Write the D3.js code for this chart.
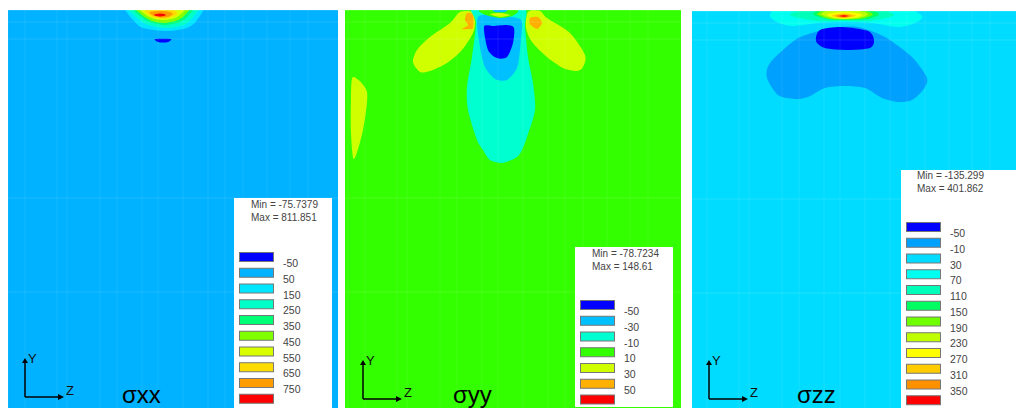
<!DOCTYPE html>
<html>
<head>
<meta charset="utf-8">
<script src="https://cdn.jsdelivr.net/npm/d3@7"></script>
<style>
  html, body { margin: 0; padding: 0; background: #fff; }
  text { font-family: "Liberation Sans", Arial, sans-serif; }
</style>
</head>
<body>
<div id="chart"></div>
<script>
// legend values
const xxLabels = ["-50", "50", "150", "250", "350", "450", "550", "650", "750"];
const yyLabels = ["-50", "-30", "-10", "10", "30", "50"];
const zzLabels = ["-50", "-10", "30", "70", "110", "150", "190", "230", "270", "310", "350"];

const xxColors = ["#0000ff", "#00b2ff", "#00e6ff", "#00ffc8", "#00ff78", "#80ff00", "#d8ff00", "#ffdc00", "#ff9c00", "#ff0000"];
const yyColors = ["#0000ff", "#00c0ff", "#00ffd0", "#33ff00", "#d0ff00", "#ffb000", "#ff0000"];
const zzColors = ["#0000ff", "#00a0ff", "#00dcff", "#00fff0", "#00ffb8", "#00ff60", "#70ff00", "#c0ff00", "#ffff00", "#ffcc00", "#ff9000", "#ff0000"];

// contours: band index, then [z, depth] outline points, z measured from the load point
const xxBands = [
  [2, [[-34, -4], [-34, 1], [-27, 10], [-17, 18], [7, 21], [27, 18], [37, 10], [39, -4]]],
  [3, [[-29, -4], [-24, 7], [-12, 15], [7, 18], [24, 15], [33, 7], [35, -4]]],
  [4, [[-25, -4], [-20, 6], [-10, 12], [5, 15], [20, 12], [28, 6], [31, -4]]],
  [5, [[-22, -3], [-18, 5], [-8, 11], [5, 13], [18, 10], [25, 5], [27, -3]]],
  [6, [[-18, -2], [-14, 5], [-5, 9], [5, 10], [15, 8], [21, 4], [23, -2]]],
  [7, [[-14, 0], [-11, 5], [-4, 8], [5, 8.5], [12, 7], [17, 4], [13, 0]]],
  [8, [[-10, 2], [-8, 5], [0, 7.5], [8, 7], [13, 4], [8, 1.5], [0, 1]]],
  [9, [[-6, 5], [0, 6.5], [6, 5], [0, 3.5]]],
  [0, [[-5, 29], [11, 29], [8, 32], [3, 32.5], [-2, 32]]]
];
const yyBands = [
  [4, [[-40, 2], [-28, 2], [-25, 12], [-27, 23], [-38, 40], [-53, 53], [-70, 61], [-80, 62], [-87, 52], [-83, 40], [-70, 27], [-50, 13]]],
  [4, [[28, 2], [40, 1], [47, 8], [70, 23], [85, 45], [83, 57], [77, 61], [63, 58], [47, 47], [32, 32], [26, 18]]],
  [4, [[-147, 67], [-133, 82], [-137, 120], [-146, 149], [-149, 123], [-149, 90]]],
  [5, [[-33, 3], [-27, 5], [-27, 18], [-31, 19], [-38, 19], [-32, 15], [-35, 10]]],
  [5, [[30, 8], [38, 7], [42, 13], [37, 19], [30, 14]]],
  [2, [[-27, -3], [-24, 13], [-28, 47], [-33, 77], [-32, 100], [-23, 130], [-17, 140], [-10, 150], [3, 153], [17, 147], [22, 140], [27, 127], [35, 100], [33, 73], [28, 47], [25, 17], [23, -3]]],
  [1, [[-22, 7], [-20, 37], [-15, 57], [-5, 69], [7, 70], [17, 58], [20, 40], [22, 13], [17, 8], [0, 6]]],
  [0, [[-16, 17], [-12, 40], [-3, 48], [7, 47], [13, 33], [14, 18], [7, 15], [-7, 16]]],
  [3, [[-20, 0], [-14, 5], [0, 8], [12, 6], [17, 0]]],
  [4, [[-10, 4], [0, 3], [10, 5], [0, 7]]],
  [1, [[-7, -1], [7, -1], [5, 2], [-5, 2]]]
];
const zzBands = [
  [1, [[-10, 17], [16, 16], [43, 26], [70, 46], [85, 67], [81, 79], [70, 89], [56, 91], [40, 87], [23, 77], [3, 75], [-17, 77], [-34, 86], [-47, 88], [-64, 84], [-75, 67], [-72, 52], [-47, 29], [-27, 21]]],
  [0, [[-22, 19], [0, 16], [26, 20], [32, 29], [28, 37], [6, 39], [-17, 37], [-26, 30]]],
  [3, [[-72, 4], [-65, 11], [-50, 15], [-24, 12], [0, 11], [30, 12], [56, 16], [73, 12], [80, 5], [56, -3], [-57, -3]]],
  [4, [[-52, 4], [-25, 10], [0, 10], [28, 10], [52, 4], [30, -3], [-30, -3]]],
  [5, [[-29, 3], [-15, 8], [5, 9], [25, 8], [37, 3], [20, -3], [-15, -3]]],
  [6, [[-25, 3], [-12, 8], [3, 8.5], [20, 7.5], [31, 3], [15, -2], [-12, -2]]],
  [7, [[-21, 3], [-10, 7], [3, 8], [17, 7], [26, 3], [12, -1], [-10, -1]]],
  [8, [[-15, 4], [-6, 7], [3, 7.5], [13, 6.5], [20, 4], [10, 1.5], [-6, 1.5]]],
  [9, [[-10, 5], [0, 7], [10, 6], [14, 4.5], [5, 2.5], [-5, 3]]],
  [10, [[-6, 5], [2, 6.5], [9, 5], [2, 3.5]]],
  [11, [[-3, 5], [2, 5.8], [6, 5], [2, 4.2]]]
];

const meshZ = [-152, -135, -103, -93, -60, -43, -18, -2, 23, 48, 65, 83, 107, 130, 148];
const meshDepth = [0.5, 12, 29, 188, 282];

const WIDTH = 1016;
const HEIGHT = 409;

const SVG = d3.select('#chart')
  .append('svg')
  .attr('width', WIDTH)
  .attr('height', HEIGHT)
  .style('display', 'block');

SVG.append('defs').append('filter')
  .attr('id', 'soft')
  .append('feGaussianBlur')
  .attr('stdDeviation', 0.6);

function drawPanel(p) {
  const x = d3.scaleLinear().domain(p.zDomain).range([p.left, p.right]);
  const y = d3.scaleLinear().domain([0, p.bottom - p.top]).range([p.top, p.bottom]);
  const color = (i) => p.colors[i];

  const clipId = 'clip-' + p.name;
  SVG.select('defs').append('clipPath').attr('id', clipId)
    .append('rect')
    .attr('x', p.left).attr('y', p.top)
    .attr('width', p.right - p.left).attr('height', p.bottom - p.top);

  const g = SVG.append('g').attr('clip-path', `url(#${clipId})`);

  g.append('rect')
    .attr('x', p.left).attr('y', p.top)
    .attr('width', p.right - p.left).attr('height', p.bottom - p.top)
    .attr('fill', color(p.background));

  const line = d3.line()
    .x((d) => x(d[0]))
    .y((d) => y(d[1]))
    .curve(d3.curveCardinalClosed.tension(0.2));

  g.append('g').attr('filter', 'url(#soft)')
    .selectAll('path')
    .data(p.bands)
    .enter()
    .append('path')
    .attr('d', (d) => line(d[1]))
    .attr('fill', (d) => color(d[0]));

  // faint mesh lines of the model
  g.selectAll('.meshv')
    .data(meshZ)
    .enter()
    .append('line')
    .attr('x1', (d) => x(d)).attr('x2', (d) => x(d))
    .attr('y1', p.top).attr('y2', p.bottom)
    .attr('stroke', '#fff').attr('stroke-opacity', 0.08);

  g.selectAll('.meshh')
    .data(meshDepth)
    .enter()
    .append('line')
    .attr('x1', p.left).attr('x2', p.right)
    .attr('y1', (d) => y(d)).attr('y2', (d) => y(d))
    .attr('stroke', '#fff').attr('stroke-opacity', 0.12);

  // legend
  const box = p.box;
  SVG.append('rect')
    .attr('x', box.x).attr('y', box.y)
    .attr('width', box.w).attr('height', box.h)
    .attr('fill', '#fff');

  SVG.selectAll('.stat-' + p.name)
    .data([p.min, p.max])
    .enter()
    .append('text')
    .attr('x', box.textX)
    .attr('y', (d, i) => box.textY + i * 13)
    .attr('font-size', 10)
    .attr('fill', '#444')
    .text((d, i) => (i === 0 ? 'Min = ' : 'Max = ') + d);

  const slot = d3.scaleLinear().domain([0, 1]).range([box.swatchY, box.swatchY + 15.75]);

  SVG.selectAll('.swatch-' + p.name)
    .data(p.colors)
    .enter()
    .append('rect')
    .attr('x', box.swatchX + 0.5)
    .attr('y', (d, i) => slot(i) + 0.5)
    .attr('width', 34)
    .attr('height', 9)
    .attr('fill', (d) => d)
    .attr('stroke', '#777');

  SVG.selectAll('.label-' + p.name)
    .data(p.labels)
    .enter()
    .append('text')
    .attr('x', box.swatchX + 44)
    .attr('y', (d, i) => slot(i) + 15)
    .attr('font-size', 10.5)
    .attr('fill', '#444')
    .text((d) => d);

  // triad
  const t = p.triad;
  const arrow = SVG.append('g').attr('stroke', '#000').attr('stroke-width', 1.5).attr('fill', 'none');
  arrow.append('path').attr('d', d3.line()([[t.x, t.y], [t.x, t.y - 36]]));
  arrow.append('path').attr('d', d3.line()([[t.x, t.y], [t.x + 36, t.y]]));
  SVG.append('path')
    .attr('d', d3.line()([[t.x - 3, t.y - 34], [t.x, t.y - 39], [t.x + 3, t.y - 34]]) + 'Z')
    .attr('fill', '#000');
  SVG.append('path')
    .attr('d', d3.line()([[t.x + 33, t.y - 3], [t.x + 39, t.y], [t.x + 33, t.y + 3]]) + 'Z')
    .attr('fill', '#000');
  SVG.append('text').attr('x', t.x + 3).attr('y', t.y - 34).attr('font-size', 13).attr('fill', '#111').text('Y');
  SVG.append('text').attr('x', t.x + 41).attr('y', t.y - 2).attr('font-size', 13).attr('fill', '#111').text('Z');

  SVG.append('text')
    .attr('x', p.titleX)
    .attr('y', 403)
    .attr('font-size', 24)
    .attr('fill', '#000')
    .text(p.title);
}

drawPanel({
  name: 'xx', title: 'σxx', min: '-75.7379', max: '811.851',
  labels: xxLabels, colors: xxColors, bands: xxBands, background: 1,
  zDomain: [-152, 178], left: 8, right: 338, top: 10, bottom: 408,
  box: { x: 234, y: 198, w: 98, h: 210, textX: 251, textY: 208, swatchX: 239, swatchY: 252 },
  triad: { x: 25, y: 397 }, titleX: 122
});

drawPanel({
  name: 'yy', title: 'σyy', min: '-78.7234', max: '148.61',
  labels: yyLabels, colors: yyColors, bands: yyBands, background: 3,
  zDomain: [-155, 181], left: 345, right: 681, top: 10, bottom: 408,
  box: { x: 575, y: 247, w: 98, h: 160, textX: 592, textY: 257, swatchX: 580, swatchY: 300 },
  triad: { x: 363, y: 399 }, titleX: 453
});

drawPanel({
  name: 'zz', title: 'σzz', min: '-135.299', max: '401.862',
  labels: zzLabels, colors: zzColors, bands: zzBands, background: 2,
  zDomain: [-150, 174], left: 692, right: 1016, top: 11, bottom: 408,
  box: { x: 901, y: 170, w: 115, h: 238, textX: 917, textY: 179, swatchX: 906, swatchY: 222 },
  triad: { x: 709, y: 399 }, titleX: 797
});
</script>
</body>
</html>
